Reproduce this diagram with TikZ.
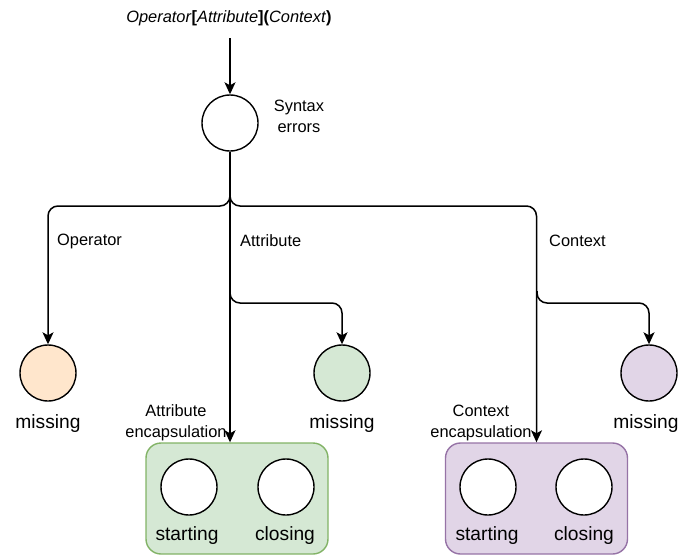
\documentclass[tikz,border=0pt]{standalone}
\usepackage{fontspec}
\setmainfont{Liberation Sans}
\usetikzlibrary{arrows.meta,calc}
\definecolor{opfill}{HTML}{FFE6CC}
\definecolor{grfill}{HTML}{D5E8D4}
\definecolor{grline}{HTML}{82B366}
\definecolor{pufill}{HTML}{E1D5E7}
\definecolor{puline}{HTML}{9673A6}
\tikzset{
  circ/.style={circle,draw=black,line width=1.4pt,minimum size=56pt,inner sep=0pt,fill=white},
  wire/.style={line width=1.5pt,rounded corners=10pt},
  edge/.style={wire,-{Stealth[length=12pt,width=11pt,inset=3pt]}},
  lbl/.style={font=\fontsize{16.4}{21}\selectfont,inner sep=0pt},
  big/.style={font=\fontsize{19.2}{22}\selectfont,inner sep=0pt},
  group/.style={rounded corners=15pt,line width=1.4pt,minimum width=182pt,minimum height=111pt,inner sep=0pt},
}
\begin{document}
\begin{tikzpicture}[x=1pt,y=-1pt]
\useasboundingbox (0,0) rectangle (681,557);

% title expression
\node[lbl] (title) at (229,18) {\textit{Operator}\textbf{[}\textit{Attribute}\textbf{](}\textit{Context}\textbf{)}};

% root
\node[circ] (sx) at (230,123) {};
\node[lbl,align=center] (sxl) at (299,116) {Syntax\\errors};

% missing leaves
\node[circ,fill=opfill] (op) at (48,373) {};
\node[big] (opl) at (48,424) {missing};
\node[circ,fill=grfill] (gm) at (342,373) {};
\node[big] (gml) at (342,424) {missing};
\node[circ,fill=pufill] (pm) at (649,373) {};
\node[big] (pml) at (646,424) {missing};

% encapsulation groups
\node[group,fill=grfill,draw=grline] (abox) at (237,498.5) {};
\node[circ] (as) at (189,487) {};
\node[circ] (ac) at (286,487) {};
\node[big] (asl) at (187,536) {starting};
\node[big] (acl) at (285,536) {closing};

\node[group,fill=pufill,draw=puline] (cbox) at (536.5,498.5) {};
\node[circ] (cs) at (488,487) {};
\node[circ] (cc) at (584,487) {};
\node[big] (csl) at (487,536) {starting};
\node[big] (ccl) at (584,536) {closing};

% branch labels
\node[lbl,anchor=west] (lop) at (57,241) {Operator};
\node[lbl,anchor=west] (lat) at (240,241) {Attribute};
\node[lbl,anchor=west] (lco) at (549,241) {Context};
\node[lbl,align=center] (lae) at (176,423) {Attribute\\encapsulation};
\node[lbl,align=center] (lce) at (481,423) {Context\\encapsulation};

% junctions
\coordinate (ts) at (230,38);
\coordinate (jt) at (230,194);
\coordinate (j) at (230,206);
\coordinate (jat) at (230,291);
\coordinate (ja) at (230,303);
\coordinate (jct) at (537,291);
\coordinate (jc) at (537,303);

% connectors
\draw[edge] (ts) -- (sx.north);
\draw[edge] (sx.south) -- (sx.south |- abox.north);
\draw[edge] (jt) -- (j) -| (op.north);
\draw[edge] (jt) -- (j) -| (cbox.north);
\draw[edge] (jat) -- (ja) -| (gm.north);
\draw[edge] (jct) -- (jc) -| (pm.north);
\end{tikzpicture}
\end{document}
